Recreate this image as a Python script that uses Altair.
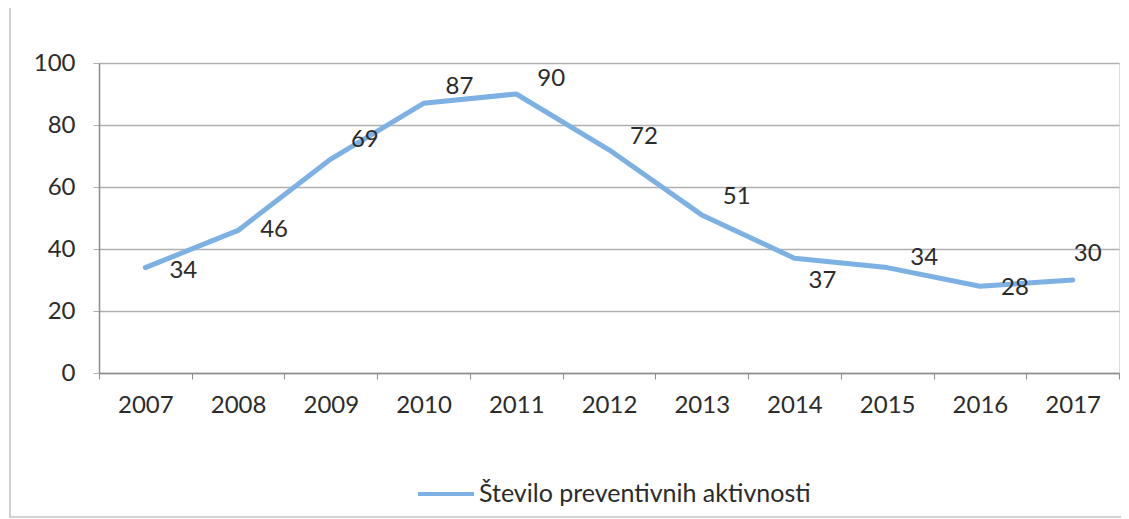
import altair as alt
import pandas as pd

years = ["2007", "2008", "2009", "2010", "2011", "2012", "2013", "2014", "2015", "2016", "2017"]
values = [34, 46, 69, 87, 90, 72, 51, 37, 34, 28, 30]
series_name = "Število preventivnih aktivnosti"
y_ticks = [0, 20, 40, 60, 80, 100]

# label offsets (pixels) relative to each point, as placed in the original
label_dx = [38, 36, 34, 36, 35, 35, 35, 28, 37, 35, 15]
label_dy = [3, 0, -19, -16, -15, -13, -18, 23, -10, 2, -26]

FONT = "Lato"
TEXT = "#2b2b2b"
BLUE = "#7db1e3"
GRID = "#b0b0b0"
FS = 24

df = pd.DataFrame({"year": years, "value": values, "series": series_name})

base = alt.Chart(df)

x_enc = alt.X(
    "year:N",
    sort=years,
    scale=alt.Scale(paddingInner=0, paddingOuter=0),
    axis=alt.Axis(
        title=None, labelAngle=0, tickBand="extent", ticks=True, tickSize=6,
        tickColor="#8c8c8c", domainColor="#8c8c8c", labelFont=FONT, labelFontSize=FS,
        labelColor=TEXT, labelPadding=14, grid=False, domainWidth=1.5,
    ),
)
y_enc = alt.Y(
    "value:Q",
    scale=alt.Scale(domain=[0, 100], nice=False),
    axis=alt.Axis(
        title=None, values=y_ticks, grid=True, gridColor=GRID, gridWidth=1.5,
        tickSize=6, tickColor=GRID, domainColor="#8c8c8c", domainWidth=1.5,
        labelFont=FONT, labelFontSize=FS, labelColor=TEXT, labelPadding=18,
    ),
)

line = base.mark_line(strokeWidth=5, interpolate="linear", strokeJoin="round", strokeCap="round").encode(
    x=x_enc,
    y=y_enc,
    color=alt.Color(
        "series:N",
        scale=alt.Scale(range=[BLUE]),
        legend=alt.Legend(
            title=None, orient="none", legendX=317, legendY=401,
            symbolType="stroke", symbolSize=3136, symbolStrokeWidth=4,
            labelFont=FONT, labelFontSize=25, labelColor=TEXT, labelLimit=800,
            labelOffset=3, padding=0,
        ),
    ),
)

labels = []
for yr, ddx, ddy in zip(years, label_dx, label_dy):
    labels.append(
        base.transform_filter(alt.datum.year == yr)
        .mark_text(font=FONT, fontSize=FS, color=TEXT, align="center", baseline="middle", dx=ddx, dy=ddy)
        .encode(x=alt.X("year:N", sort=years), y="value:Q", text="value:Q")
    )

frame = alt.Chart(pd.DataFrame({"a": [0]})).mark_rect(
    fill=None, stroke="#c4c4c4", strokeWidth=1.5, clip=False
).encode(
    x=alt.value(-89), x2=alt.value(1060), y=alt.value(-58), y2=alt.value(454)
)

chart = alt.layer(frame, line, *labels).properties(
    width=1020,
    height=310,
    autosize=alt.AutoSizeParams(type="none"),
    padding={"left": 91, "top": 55, "right": 2, "bottom": 146},
).configure_view(stroke=None).configure(background="white")

chart.save("out.html", embed_options={"renderer": "svg", "actions": False})
